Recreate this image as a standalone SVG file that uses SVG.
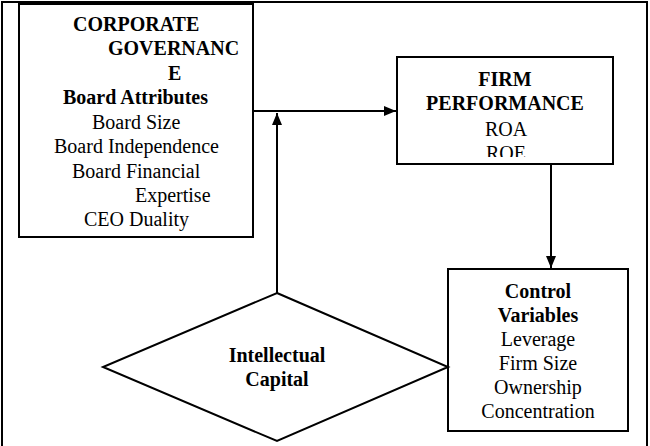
<svg xmlns="http://www.w3.org/2000/svg" width="650" height="446" viewBox="0 0 650 446">
<style>
.box{fill:#fff;stroke:#000;stroke-width:2}
.ln{fill:none;stroke:#000;stroke-width:2}
text{font-family:'Liberation Serif',Tinos,'Times New Roman',Times,'DejaVu Serif',serif;font-size:20px;fill:#000}
.b{font-weight:bold}
.c{text-anchor:middle}
</style>
<defs>
<marker id="ah" viewBox="0 0 12 10" refX="12" refY="5" markerWidth="12" markerHeight="10" markerUnits="userSpaceOnUse" orient="auto">
<path d="M0,0 L12,5 L0,10 Z" fill="#000"/>
</marker>
<clipPath id="fpclip"><rect x="398" y="58" width="214" height="99"/></clipPath>
</defs>
<rect x="0" y="0" width="650" height="446" fill="#fff"/>
<path class="ln" d="M2,446 V2 H647 V446"/>
<g id="connectors">
<line class="ln" x1="253" y1="111" x2="396" y2="111" marker-end="url(#ah)"/>
<line class="ln" x1="277" y1="293" x2="277" y2="113" marker-end="url(#ah)"/>
<line class="ln" x1="551" y1="164" x2="551" y2="268" marker-end="url(#ah)"/>
</g>
<g id="corporate-governance">
<rect class="box" x="19" y="4" width="234" height="233"/>
<text class="b" x="73" y="31">CORPORATE</text>
<text class="b" x="108" y="55">GOVERNANC</text>
<text class="b" x="168" y="80">E</text>
<text class="b" x="63" y="104">Board Attributes</text>
<text x="92" y="129">Board Size</text>
<text x="54" y="153">Board Independence</text>
<text x="72" y="178">Board Financial</text>
<text x="135" y="202">Expertise</text>
<text x="84" y="226">CEO Duality</text>
</g>
<g id="firm-performance">
<rect class="box" x="397" y="57" width="216" height="107"/>
<text class="b c" x="505" y="86">FIRM</text>
<text class="b c" x="505" y="110">PERFORMANCE</text>
<text class="c" x="506" y="136">ROA</text>
<text class="c" x="506" y="160" clip-path="url(#fpclip)">ROE</text>
</g>
<g id="control-variables">
<rect class="box" x="448" y="269" width="180" height="162"/>
<text class="b c" x="538" y="298">Control</text>
<text class="b c" x="538" y="322">Variables</text>
<text class="c" x="538" y="346">Leverage</text>
<text class="c" x="538" y="370">Firm Size</text>
<text class="c" x="538" y="394">Ownership</text>
<text class="c" x="538" y="418">Concentration</text>
</g>
<g id="intellectual-capital">
<polygon class="box" points="277,293 448,367 277,441 103,367"/>
<text class="b c" x="277" y="362">Intellectual</text>
<text class="b c" x="277" y="386">Capital</text>
</g>
</svg>
